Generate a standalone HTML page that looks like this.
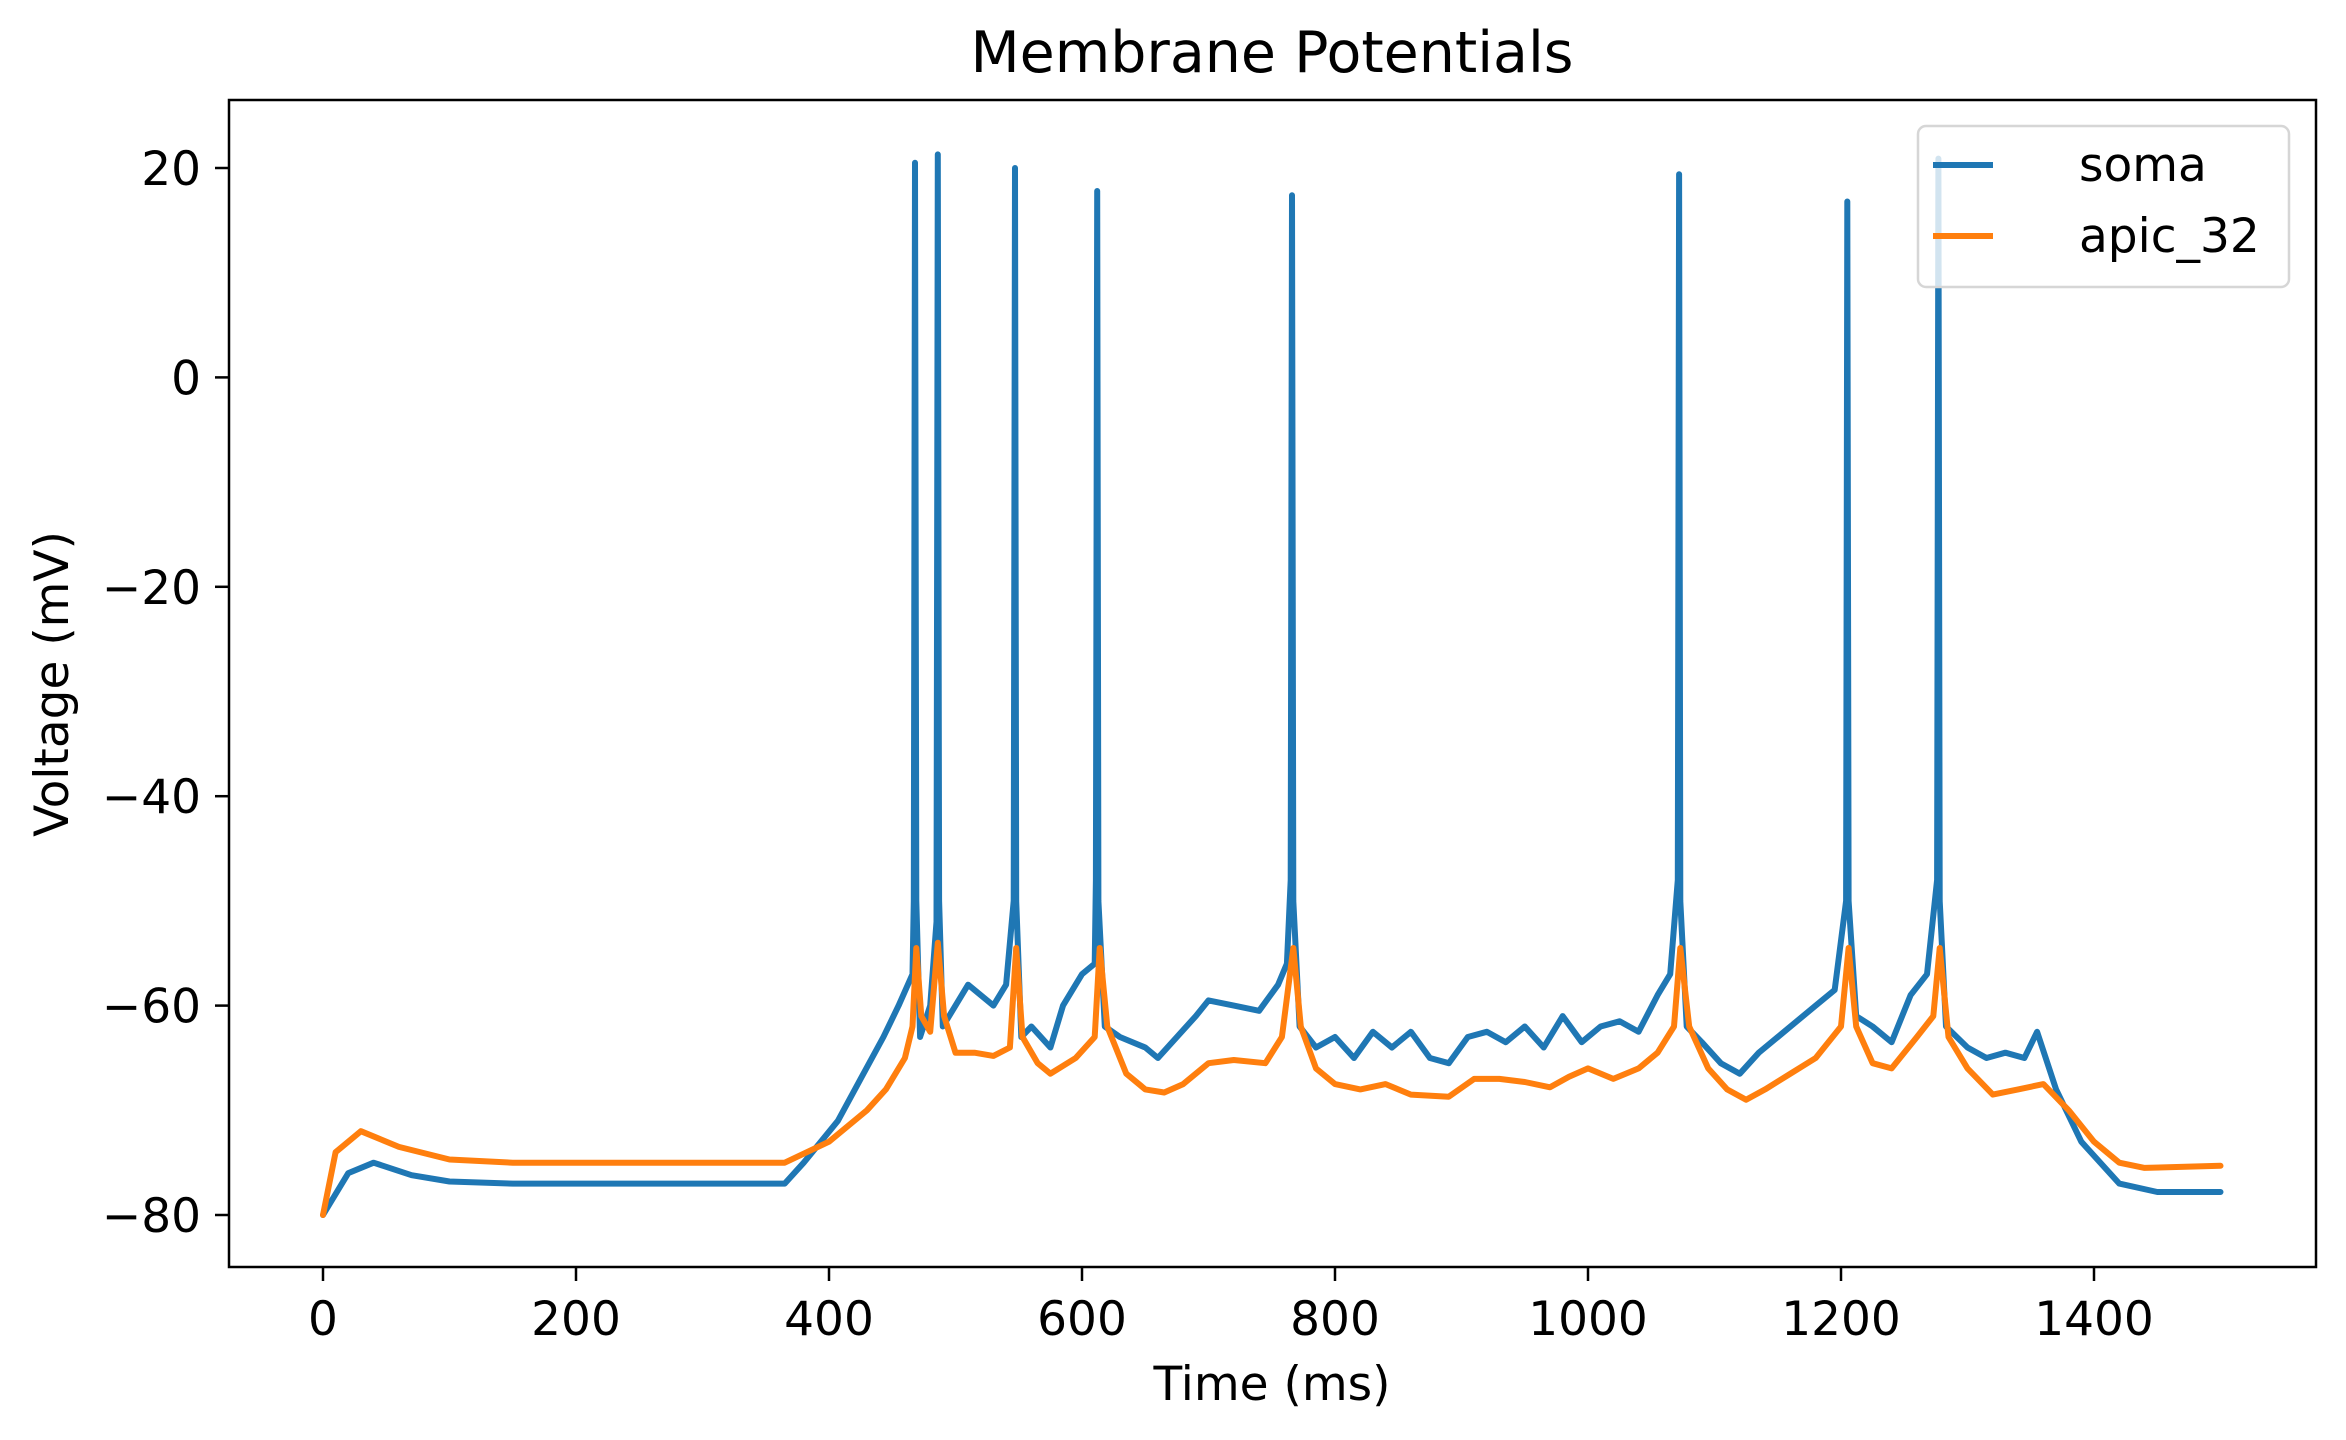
<!DOCTYPE html>
<html><head><meta charset="utf-8"><style>
html,body{margin:0;padding:0;background:#fff}
svg{display:block;font-family:"DejaVu Sans","Liberation Sans",sans-serif}
</style></head><body>
<svg id="chart" width="2346" height="1440" viewBox="0 0 2346 1440" xmlns="http://www.w3.org/2000/svg">
<rect width="2346" height="1440" fill="#fff"/>
<text x="1272" y="72" font-size="57" text-anchor="middle">Membrane Potentials</text>
<g id="plot"></g>
<text x="1272" y="1400" font-size="47" text-anchor="middle">Time (ms)</text>
<text x="0" y="0" font-size="47" text-anchor="middle" transform="translate(68,684) rotate(-90)">Voltage (mV)</text>
<rect x="229" y="100" width="2087" height="1167" fill="none" stroke="#000" stroke-width="2.5"/>
<g>
<rect x="1918" y="126" width="371" height="161" rx="8" fill="#fff" fill-opacity="0.8" stroke="#d6d6d6" stroke-width="2.5"/>
<line x1="1933" y1="165" x2="1993" y2="165" stroke="#1f77b4" stroke-width="6"/>
<text x="2079" y="181" font-size="47">soma</text>
<line x1="1933" y1="236" x2="1993" y2="236" stroke="#ff7f0e" stroke-width="6"/>
<text x="2079" y="252" font-size="47">apic_32</text>
</g>
</svg>
<script>
const xTicks = [0,200,400,600,800,1000,1200,1400];
const yTicks = [20,0,-20,-40,-60,-80];
const somaT = [0,5,20,40,70,100,150,365,380,407,425,443,455,466,467,468,469,472,480,485,486,487,490,500,510,530,540,546,547,548,552,560,575,585,600,610,611,612,613,618,630,650,660,675,690,700,720,740,755,762,765,766,767,772,785,800,815,830,845,860,875,890,905,920,935,950,965,980,995,1010,1025,1040,1055,1065,1071,1072,1073,1078,1090,1105,1120,1135,1150,1165,1180,1195,1204,1205,1206,1212,1225,1240,1255,1268,1276,1277,1278,1283,1300,1315,1330,1345,1355,1370,1390,1420,1450,1500];
const somaV = [-80,-79,-76,-75,-76.2,-76.8,-77,-77,-75,-71,-67,-63,-60,-57,-50,20.5,-50,-63,-60,-52,21.3,-50,-62,-60,-58,-60,-58,-50,20,-50,-63,-62,-64,-60,-57,-56,-48,17.8,-50,-62,-63,-64,-65,-63,-61,-59.5,-60,-60.5,-58,-56,-48,17.4,-50,-62,-64,-63,-65,-62.5,-64,-62.5,-65,-65.5,-63,-62.5,-63.5,-62,-64,-61,-63.5,-62,-61.5,-62.5,-59,-57,-48,19.4,-50,-62,-63.5,-65.5,-66.5,-64.5,-63,-61.5,-60,-58.5,-50,16.8,-50,-61,-62,-63.5,-59,-57,-48,20.9,-50,-62,-64,-65,-64.5,-65,-62.5,-68,-73,-77,-77.8,-77.8];
const apicT = [0,10,30,60,100,150,365,400,430,445,460,466,469,473,480,486,491,500,515,530,543,548,553,565,575,595,610,614,620,635,650,665,680,700,720,745,758,767,773,785,800,820,840,860,890,910,930,950,970,985,1000,1020,1040,1055,1068,1073,1080,1095,1110,1125,1140,1160,1180,1200,1206,1212,1225,1240,1260,1273,1278,1285,1300,1320,1340,1360,1380,1400,1420,1440,1500];
const apicV = [-80,-74,-72,-73.5,-74.7,-75,-75,-73,-70,-68,-65,-62,-54.5,-61,-62.5,-54,-61,-64.5,-64.5,-64.8,-64,-54.5,-63,-65.5,-66.5,-65,-63,-54.5,-62,-66.5,-68,-68.3,-67.5,-65.5,-65.2,-65.5,-63,-54.5,-62,-66,-67.5,-68,-67.5,-68.5,-68.7,-67,-67,-67.3,-67.8,-66.8,-66,-67,-66,-64.5,-62,-54.5,-62,-66,-68,-69,-68,-66.5,-65,-62,-54.5,-62,-65.5,-66,-63,-61,-54.5,-63,-66,-68.5,-68,-67.5,-70,-73,-75,-75.5,-75.3];

const X0=323, XPER=(2094-323)/1400, Y0=168, YPER=(1215-168)/100;
function xs(t){return X0+t*XPER;}
function ys(v){return Y0+(20-v)*YPER;}
const NS='http://www.w3.org/2000/svg';
const g=document.getElementById('plot');
function mk(tag,attrs){const e=document.createElementNS(NS,tag);for(const k in attrs)e.setAttribute(k,attrs[k]);return e;}
xTicks.forEach(t=>{
  const l=mk('line',{x1:xs(t),x2:xs(t),y1:1267,y2:1281,stroke:'#000','stroke-width':2.5});
  
  
  g.appendChild(l);
  const tx=mk('text',{x:xs(t),y:1335,'font-size':47,'text-anchor':'middle'});
  
  
  tx.textContent=String(t);
  g.appendChild(tx);
});
yTicks.forEach(v=>{
  const l=mk('line',{x1:215,x2:229,y1:ys(v),y2:ys(v),stroke:'#000','stroke-width':2.5});
  
  
  g.appendChild(l);
  const tx=mk('text',{x:201,y:ys(v)+17,'font-size':47,'text-anchor':'end'});
  
  
  tx.textContent=(v<0?'\u2212':'')+Math.abs(v);
  g.appendChild(tx);
});
function line(T,V,color,name){
  const pts=T.map((t,i)=>xs(t).toFixed(1)+','+ys(V[i]).toFixed(1)).join(' ');
  const p=mk('polyline',{points:pts,fill:'none',stroke:color,'stroke-width':6,'stroke-linejoin':'round','stroke-linecap':'round'});
  
  
  g.appendChild(p);
}
line(somaT,somaV,'#1f77b4','soma-trace');
line(apicT,apicV,'#ff7f0e','apic-32-trace');
</script>
</body></html>
